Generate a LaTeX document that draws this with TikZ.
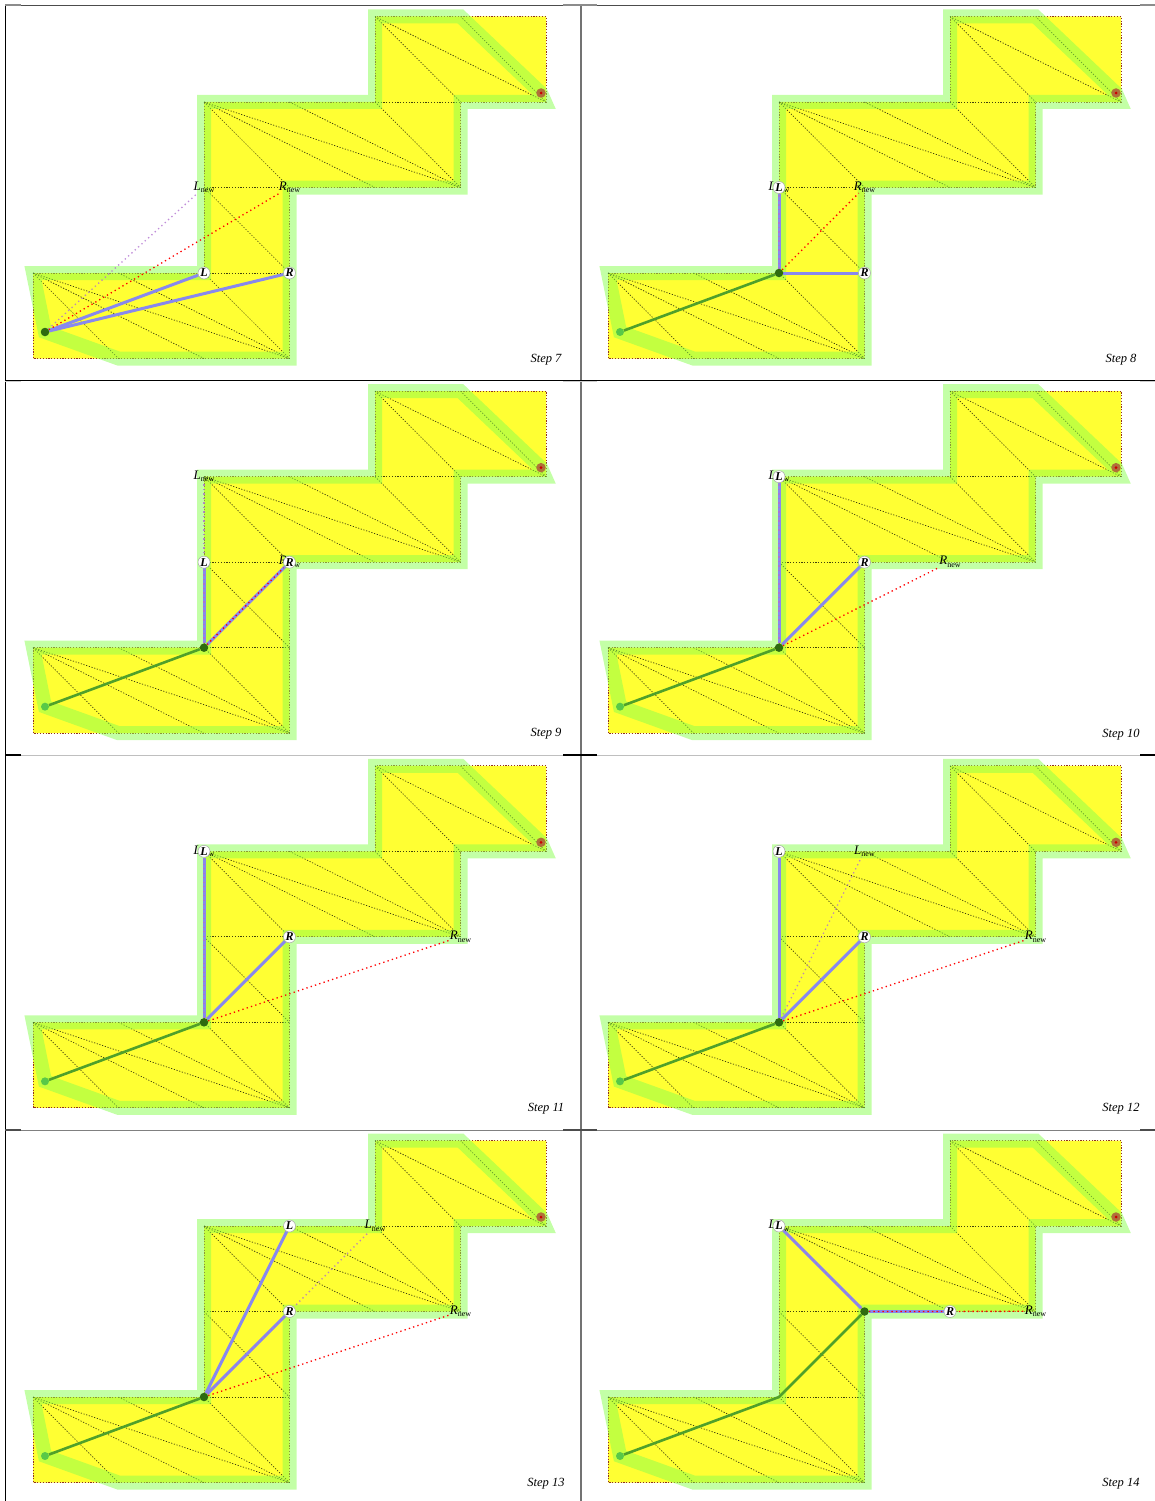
\documentclass[tikz,border=0pt]{standalone}
\usepackage{fontspec}
\setmainfont{Liberation Serif}
\usepackage{xcolor}
\usetikzlibrary{backgrounds}
\definecolor{mapyellow}{HTML}{FFFF33}
\definecolor{bandgreen}{HTML}{88FF4D}
\definecolor{edgebrown}{HTML}{903020}
\definecolor{funnelblue}{HTML}{8888EE}
\definecolor{pathgreen}{HTML}{50A02A}
\definecolor{apexgreen}{HTML}{2E6B10}
\definecolor{startgreen}{HTML}{58C848}
\definecolor{goalbrown}{HTML}{B0703A}
\definecolor{leftpurple}{HTML}{B070D0}
\tikzset{
  mapshape/.style={fill=mapyellow,draw=edgebrown,line width=.7pt,dash pattern=on 1.2pt off 1.6pt},
  diagline/.style={draw=black,line width=.7pt,dash pattern=on 1.2pt off 1.6pt,opacity=.75},
  bandline/.style={draw=bandgreen,line width=14pt,miter limit=10,opacity=.5},
  funnel/.style={draw=funnelblue,line width=3pt},
  walkline/.style={draw=pathgreen,line width=2.6pt},
  probeL/.style={draw=leftpurple,line width=1.3pt,dash pattern=on 1.3pt off 3.2pt,opacity=.8},
  probeR/.style={draw=red,line width=1.3pt,dash pattern=on 1.3pt off 3.2pt},
  apexpin/.style={circle,fill=apexgreen,inner sep=0pt,minimum size=8.5pt},
  startpin/.style={circle,fill=startgreen,inner sep=0pt,minimum size=8pt},
  goalpin/.style={circle,fill=goalbrown,inner sep=0pt,minimum size=9.5pt},
  goalcore/.style={circle,fill=red!80!black,inner sep=0pt,minimum size=3pt},
  sidepin/.style={circle,fill=white,draw=gray!70,line width=.5pt,inner sep=0pt,minimum size=12pt,font=\fontsize{12}{12}\selectfont\bfseries\itshape},
  newlabel/.style={inner sep=0pt,font=\fontsize{13}{13}\selectfont\itshape,yshift=.2pt},
  steplabel/.style={inner sep=0pt,font=\fontsize{12.5}{12.5}\selectfont\itshape}
}
\newcommand{\subnew}{\raisebox{-2.6pt}{\fontsize{8}{8}\selectfont\upshape new}}
\newcommand{\steppanel}[9]{
\begin{scope}[shift={(#1,#2)},name prefix=s#3-]
\foreach \i in {0,...,6} \foreach \j in {0,...,4}
  \coordinate (g\i\j) at ({33+85.5*\i},{16.5+85.5*\j});
\coordinate (bend) at (545,102);
\node[steplabel] (stepname) at (546,359.5) {Step #3};
\node[newlabel] (Lnew) at (#6) {L\subnew};
\node[newlabel] (Rnew) at (#7) {R\subnew};
\node[startpin] (startdot) at (45,332) {};
\node[goalpin] (goaldot) at (541,93) {};
\node[goalcore] (goalmid) at (goaldot) {};
\node[apexpin] (apexdot) at (#4) {};
\node[sidepin] (Ldot) at (#5) {L};
\node[sidepin] (Rdot) at (#8) {R};
\begin{scope}[on background layer]
\path[mapshape] (g03)--(g04)--(g34)--(g32)--(g52)--(g51)--(g61)--(g60)--(g40)--(g41)--(g21)--(g23)--cycle;
\foreach \a/\b in {g03/g14,g03/g24,g03/g34,g13/g34,g23/g34,g23/g33,g22/g33,g22/g32,g21/g32,g21/g42,g21/g52,g31/g52,g41/g52,g41/g51,g40/g51,g40/g61,g50/g61}
  \draw[diagline] (\a)--(\b);
\draw[bandline] (startdot.center)--(g03)--(g23)--(g21)--(g41)--(g40)--(g50)--(goaldot.center)--(bend)--(g51)--(g52)--(g32)--(g34)--(g14)--cycle;
\draw[walkline] #9;
\draw[funnel] (apexdot)--(Ldot);
\draw[funnel] (apexdot)--(Rdot);
\draw[probeL] (apexdot)--(Lnew);
\draw[probeR] (apexdot)--(Rnew);
\end{scope}
\end{scope}
}
\begin{document}
\begin{tikzpicture}[x=1pt,y=-1pt]
\useasboundingbox (0,0) rectangle (1155,1501);
\draw[black,line width=1pt] (5.5,5.5)--(5.5,1501);
\draw[black!55,line width=1.5pt] (581,5.5)--(581,1501);
\foreach \y/\c in {5.5/black!70,380.5/black,755/black!25,1130/black!50}
  \draw[\c,line width=1pt] (5,\y)--(1155,\y);
\foreach \y/\c in {5/black!45,381.5/black!20,755/black,1130/black!70}{
  \draw[\c,line width=1.2pt] (5,\y)--(21,\y);
  \draw[\c,line width=1.2pt] (563,\y)--(597,\y);
  \draw[\c,line width=1.2pt] (1140,\y)--(1155,\y);
}
\steppanel{0}{0}{7}{startdot}{g23}{g22}{g32}{g33}{(startdot)}
\steppanel{575}{0}{8}{g23}{g22}{g22}{g32}{g33}{(startdot)--(apexdot)}
\steppanel{0}{374.67}{9}{g23}{g22}{g21}{g32}{g32}{(startdot)--(apexdot)}
\steppanel{575}{374.67}{10}{g23}{g21}{g21}{g42}{g32}{(startdot)--(apexdot)}
\steppanel{0}{749.33}{11}{g23}{g21}{g21}{g52}{g32}{(startdot)--(apexdot)}
\steppanel{575}{749.33}{12}{g23}{g21}{g31}{g52}{g32}{(startdot)--(apexdot)}
\steppanel{0}{1124}{13}{g23}{g31}{g41}{g52}{g32}{(startdot)--(apexdot)}
\steppanel{575}{1124}{14}{g32}{g21}{g21}{g52}{g42}{(startdot)--(g23)--(apexdot)}
\end{tikzpicture}
\end{document}
